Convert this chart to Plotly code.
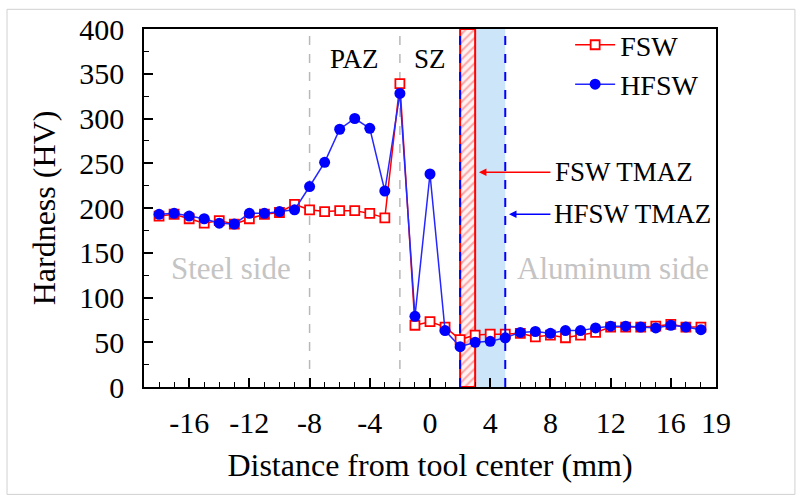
import plotly.graph_objects as go

# ---- data ----
distance = list(range(-18, 19))
fsw = [191, 193, 188, 183, 186, 182, 188, 193, 195, 204, 198, 196, 197, 197, 194, 189, 339,
       69, 73, 67, 53, 58, 59, 59, 60, 56, 58, 55, 58, 61, 67, 67, 67, 68, 70, 67, 67]
hfsw = [193, 194, 191, 188, 183, 182, 194, 194, 196, 198, 224, 251, 288, 300, 289, 219, 328,
        79, 238, 63, 45, 50, 51, 55, 61, 62, 60, 63, 63, 66, 68, 68, 67, 66, 69, 67, 64]
series_names = ["FSW", "HFSW"]
zone_lines = [-8, -2]
zone_labels = ["PAZ", "SZ"]
zone_label_x = [-5, 0]
fsw_tmaz = [2, 3]
hfsw_tmaz = [2, 5]
side_labels = ["Steel side", "Aluminum side"]
side_label_x = [-13.2, 12.15]
x_tickvals = [-16, -12, -8, -4, 0, 4, 8, 12, 16, 19]
x_ticktext = ["-16", "-12", "-8", "-4", "0", "4", "8", "12", "16", "19"]
y_max = 400

FONT = "Liberation Serif, Times New Roman, serif"

fig = go.Figure()

# FSW TMAZ hatched zone
fig.add_trace(go.Bar(
    x=[(fsw_tmaz[0] + fsw_tmaz[1]) / 2], y=[y_max], width=[fsw_tmaz[1] - fsw_tmaz[0]],
    marker=dict(color="#fff3f3", line=dict(color="#ff0000", width=2),
                pattern=dict(shape="/", fgcolor="#ff5a5a", size=6, solidity=0.35)),
    showlegend=False, hoverinfo="skip"))

fig.add_trace(go.Scatter(
    x=distance, y=fsw, name=series_names[0], mode="lines+markers",
    line=dict(color="#ff0000", width=1.5),
    marker=dict(symbol="square", size=9, color="white", line=dict(color="#ff0000", width=1.8))))
fig.add_trace(go.Scatter(
    x=distance, y=hfsw, name=series_names[1], mode="lines+markers",
    line=dict(color="#2626ff", width=1.5),
    marker=dict(symbol="circle", size=11, color="#0000ff", line=dict(width=0))))

shapes = []
# HFSW TMAZ light blue zone
shapes.append(dict(type="rect", xref="x", yref="y", x0=fsw_tmaz[1], x1=hfsw_tmaz[1], y0=0, y1=y_max,
                   fillcolor="#cde5f9", line=dict(width=0), layer="below"))
for xv in zone_lines:
    shapes.append(dict(type="line", xref="x", yref="y", x0=xv, x1=xv, y0=0, y1=y_max,
                       line=dict(color="#b8b8b8", width=1.5, dash="dash"), layer="below"))
for xv in hfsw_tmaz:
    shapes.append(dict(type="line", xref="x", yref="y", x0=xv, x1=xv, y0=0, y1=y_max,
                       line=dict(color="#0000ff", width=2, dash="dash"), layer="above"))
# outer frame of the image
shapes.append(dict(type="rect", xref="paper", yref="paper", x0=-0.2395, x1=1.138, y0=-0.30, y1=1.055,
                   line=dict(color="#d0d0d0", width=1), layer="below"))

annotations = []
for lbl, xv in zip(zone_labels, zone_label_x):
    annotations.append(dict(x=xv, y=367, xref="x", yref="y", text=lbl, showarrow=False,
                            font=dict(family=FONT, size=27, color="black")))
for lbl, xv in zip(side_labels, side_label_x):
    annotations.append(dict(x=xv, y=132, xref="x", yref="y", text=lbl, showarrow=False,
                            font=dict(family=FONT, size=31, color="#c4c4c4")))
# TMAZ arrows
annotations.append(dict(x=fsw_tmaz[1] + 0.25, y=240, xref="x", yref="y", ax=8.1, ay=240,
                        axref="x", ayref="y", text="", showarrow=True, arrowhead=2,
                        arrowsize=1, arrowwidth=1.5, arrowcolor="#ff0000"))
annotations.append(dict(x=8.2, y=240, xref="x", yref="y", text="FSW TMAZ", showarrow=False,
                        xanchor="left", font=dict(family=FONT, size=27, color="black")))
annotations.append(dict(x=hfsw_tmaz[1] + 0.25, y=193, xref="x", yref="y", ax=8.1, ay=193,
                        axref="x", ayref="y", text="", showarrow=True, arrowhead=2,
                        arrowsize=1, arrowwidth=1.5, arrowcolor="#0000ff"))
annotations.append(dict(x=8.1, y=193, xref="x", yref="y", text="HFSW TMAZ", showarrow=False,
                        xanchor="left", font=dict(family=FONT, size=27, color="black")))

fig.update_layout(
    width=801, height=503,
    margin=dict(l=144, r=85, t=27, b=116),
    paper_bgcolor="white", plot_bgcolor="white",
    font=dict(family=FONT, size=30, color="black"),
    shapes=shapes, annotations=annotations,
    showlegend=True,
    legend=dict(x=0.745, y=1.025, xanchor="left", yanchor="top", bgcolor="rgba(0,0,0,0)",
                font=dict(family=FONT, size=28), tracegroupgap=0, itemwidth=40),
    xaxis=dict(range=[-19, 19], tickvals=x_tickvals, ticktext=x_ticktext, ticks="inside", ticklen=9,
               tickwidth=1.5, tickcolor="black", showline=True, linecolor="black", linewidth=1.5,
               mirror=True, showgrid=False, zeroline=False, ticklabelstandoff=8,
               tickfont=dict(family=FONT, size=30),
               minor=dict(dtick=1, ticks="inside", ticklen=5, tickwidth=1.2, tickcolor="black", showgrid=False),
               title=dict(text="Distance from tool center (mm)", standoff=16,
                          font=dict(family=FONT, size=32))),
    yaxis=dict(range=[0, y_max], dtick=50, ticks="inside", ticklen=9, tickwidth=1.5,
               tickcolor="black", showline=True, linecolor="black", linewidth=1.5, mirror=True,
               showgrid=False, zeroline=False, ticklabelstandoff=12,
               tickfont=dict(family=FONT, size=30),
               minor=dict(dtick=25, ticks="inside", ticklen=5, tickwidth=1.2, tickcolor="black", showgrid=False),
               title=dict(text="Hardness (HV)", standoff=14, font=dict(family=FONT, size=32))),
)

fig.write_html("out.html")
